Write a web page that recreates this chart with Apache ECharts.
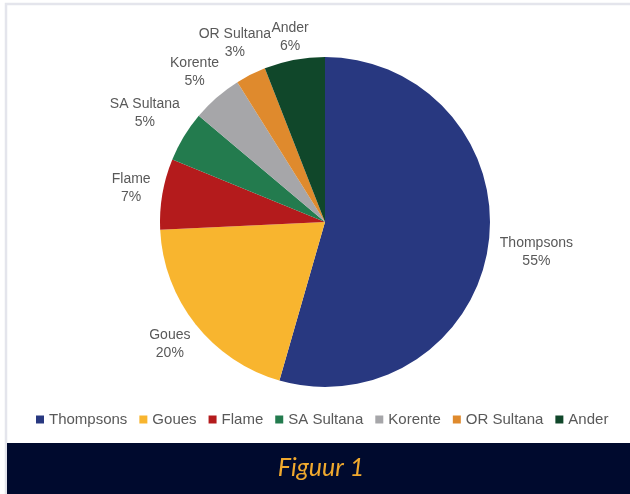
<!DOCTYPE html>
<html lang="en">
<head>
<meta charset="UTF-8">
<title>Figuur 1</title>
<script src="https://cdn.jsdelivr.net/npm/echarts@6/dist/echarts.min.js"></script>
<style>
  html, body { margin: 0; padding: 0; background: #fff; }
</style>
</head>
<body>
<div id="main" style="width: 630px;height:494px;"></div>
<script>
var categories = ['Thompsons', 'Goues', 'Flame', 'SA Sultana', 'Korente', 'OR Sultana', 'Ander'];
var shares = [55, 20, 7, 5, 5, 3, 6];
var colors = ['#283880', '#f8b52f', '#b41b1c', '#237b4e', '#a6a6a9', '#df8a2d', '#10472a'];

var cx = 325, cy = 222, radius = 165;
var font = '"Liberation Sans", Arial, sans-serif';

// mid angle of every slice (clockwise from the top), used to put the labels round the pie
var total = 0;
shares.forEach(function (v) { total += v; });
var midAngles = [];
var acc = 0;
shares.forEach(function (v) {
    midAngles.push((acc + v / 2) / total * Math.PI * 2);
    acc += v;
});

var myChart = echarts.init(document.getElementById('main'));

var option = {
    animation: false,
    color: colors,
    legend: {
        data: categories,
        top: 407,
        left: 31,
        icon: 'rect',
        itemWidth: 8,
        itemHeight: 8,
        itemGap: 12,
        textStyle: {
            color: '#595959',
            fontSize: 15,
            fontFamily: font
        }
    },
    graphic: [{
        type: 'rect',
        z: -10,
        shape: { x: 6, y: 4, width: 640, height: 500 },
        style: { fill: '#fff', stroke: '#e4e5ec', lineWidth: 2.5 }
    }, {
        type: 'rect',
        shape: { x: 7, y: 443, width: 623, height: 51 },
        style: { fill: '#000a2e' }
    }, {
        type: 'text',
        x: 321,
        y: 468,
        style: {
            text: 'Figuur 1',
            fill: '#f0a92e',
            font: 'italic 25px Lato',
            textAlign: 'center',
            textVerticalAlign: 'middle'
        }
    }],
    series: [{
        type: 'pie',
        center: [cx, cy],
        radius: radius,
        startAngle: 90,
        clockwise: true,
        itemStyle: { borderWidth: 0 },
        label: {
            show: true,
            position: 'outside',
            formatter: '{b}\n{c}%',
            color: '#595959',
            fontSize: 14,
            lineHeight: 18,
            fontFamily: font,
            align: 'center'
        },
        labelLine: { show: false },
        labelLayout: function (p) {
            var a = midAngles[p.dataIndex];
            var ux = Math.sin(a), uy = -Math.cos(a);
            var w = p.labelRect.width, h = p.labelRect.height;
            var off = radius + 11 + Math.abs(ux) * w / 2 + Math.abs(uy) * h / 4;
            return {
                x: cx + ux * off,
                y: cy + uy * off,
                align: 'center',
                verticalAlign: 'middle'
            };
        },
        data: categories.map(function (c, i) {
            return { name: c, value: shares[i] };
        })
    }]
};

myChart.setOption(option);
</script>
</body>
</html>
